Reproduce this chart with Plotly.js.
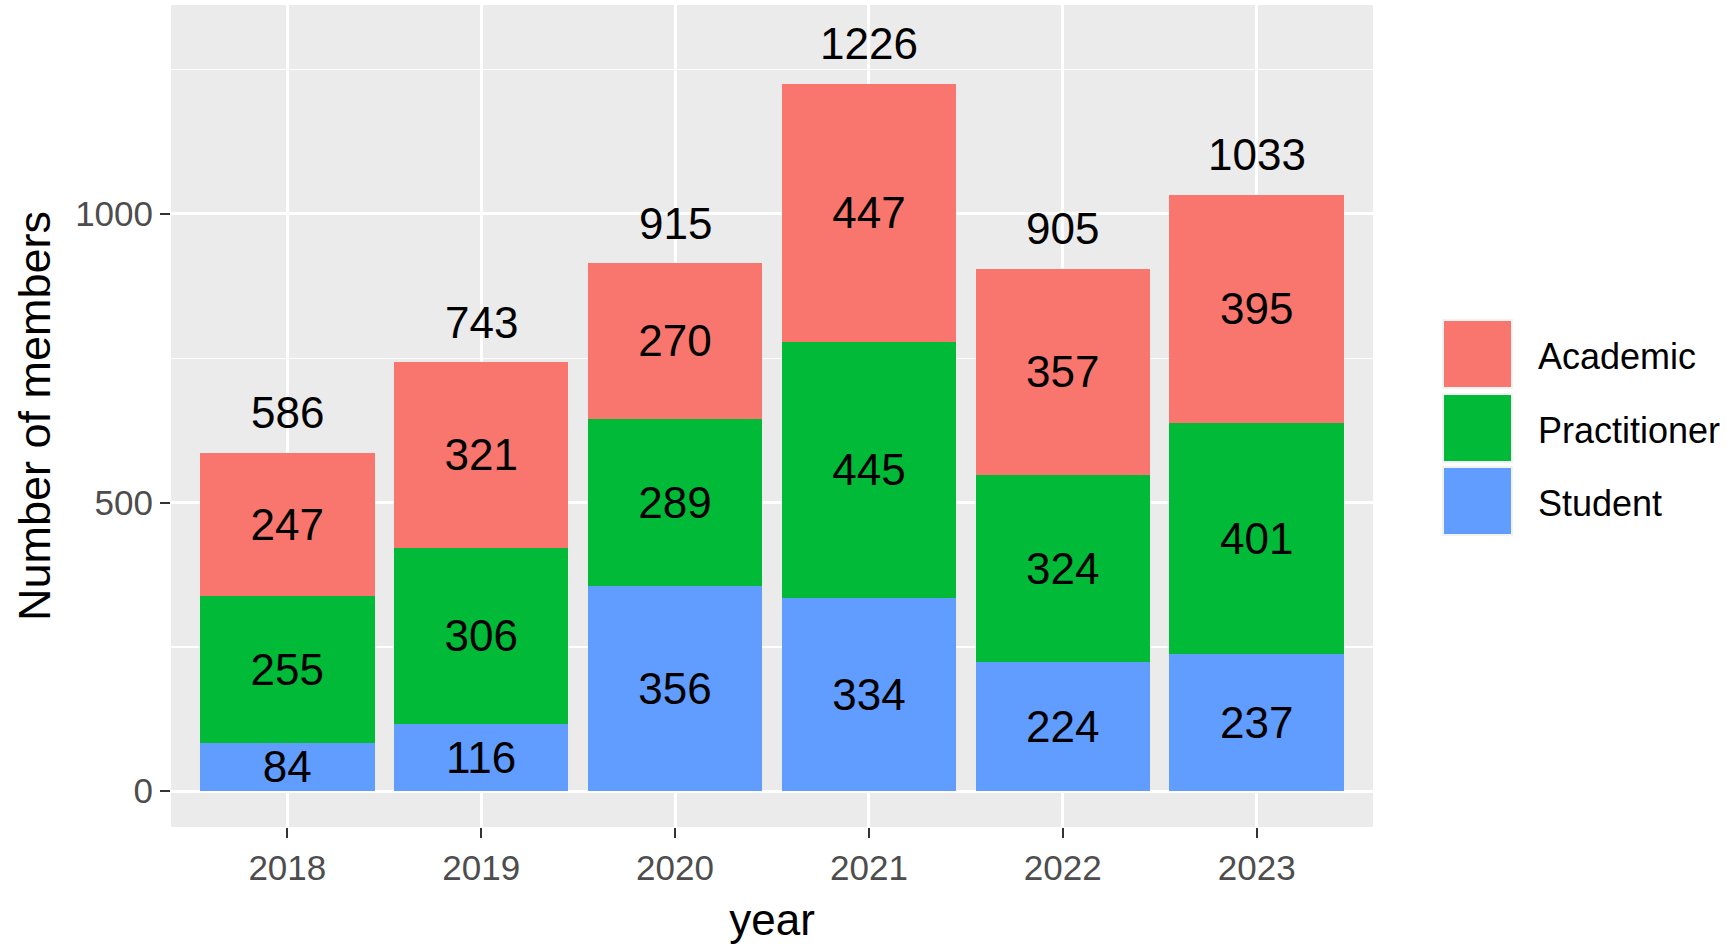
<!DOCTYPE html>
<html>
<head>
<meta charset="utf-8">
<script src="https://cdn.plot.ly/plotly-3.0.1.min.js"></script>
<style>
  html, body { margin: 0; padding: 0; background: #ffffff; }
  #chart { width: 1733px; height: 945px; }
</style>
</head>
<body>
<div id="chart"></div>
<script>
const years = ["2018", "2019", "2020", "2021", "2022", "2023"];
const student = [84, 116, 356, 334, 224, 237];
const practitioner = [255, 306, 289, 445, 324, 401];
const academic = [247, 321, 270, 447, 357, 395];

const groups = ["Academic", "Practitioner", "Student"];
const colors = { Academic: "#F8766D", Practitioner: "#00BA38", Student: "#619CFF" };

const font = "Liberation Sans, Arial, sans-serif";
const W = 1733, H = 945;
const margin = { l: 171, r: 360, t: 5, b: 118 };

// pixel -> paper helpers for the hand-made legend
const px = (x) => (x - margin.l) / (W - margin.l - margin.r);
const py = (y) => (H - margin.b - y) / (H - margin.t - margin.b);

const totals = years.map((_, i) => student[i] + practitioner[i] + academic[i]);

function barTrace(name, values) {
  return {
    type: "bar",
    name,
    x: years,
    y: values,
    marker: { color: colors[name], line: { width: 0 } },
    text: values.map(String),
    textposition: "inside",
    insidetextanchor: "middle",
    textangle: 0,
    textfont: { family: font, size: 44, color: "#000000" },
    hoverinfo: "skip",
    showlegend: false,
  };
}

const data = [
  barTrace("Student", student),
  barTrace("Practitioner", practitioner),
  barTrace("Academic", academic),
];

// totals above each bar; x given as category index
const annotations = totals.map((t, i) => ({
  x: i, y: t, xref: "x", yref: "y",
  text: String(t), showarrow: false,
  yanchor: "middle", yshift: 40,
  font: { family: font, size: 44, color: "#000000" },
}));

const shapes = [];
const keyTops = [320, 394, 467];
groups.forEach((g, i) => {
  const top = keyTops[i];
  shapes.push({
    type: "rect", xref: "paper", yref: "paper",
    x0: px(1443), x1: px(1512), y0: py(top + 68), y1: py(top),
    fillcolor: colors[g], line: { color: "#F2F2F2", width: 2 },
  });
  annotations.push({
    xref: "paper", yref: "paper", x: px(1536), y: py(top + 36),
    xanchor: "left", yanchor: "middle", showarrow: false,
    text: g, font: { family: font, size: 36, color: "#000000" },
  });
});

const layout = {
  width: W, height: H,
  margin,
  paper_bgcolor: "#ffffff",
  plot_bgcolor: "#EBEBEB",
  barmode: "stack",
  bargap: 0.1,
  showlegend: false,
  uniformtext: { mode: "show", minsize: 44 },
  font: { family: font, color: "#000000" },
  xaxis: {
    type: "category",
    range: [-0.6, 5.6],
    showgrid: true, gridcolor: "#ffffff", gridwidth: 3,
    ticks: "outside", ticklen: 10, tickwidth: 2, tickcolor: "#333333",
    tickfont: { family: font, size: 35, color: "#4D4D4D" },
    showline: false, zeroline: false,
    title: { text: "year", font: { family: font, size: 44, color: "#000000" }, standoff: 18 },
  },
  yaxis: {
    range: [-62, 1362],
    tickvals: [0, 500, 1000],
    showgrid: true, gridcolor: "#ffffff", gridwidth: 3,
    minor: { tickvals: [250, 750, 1250], showgrid: true, gridcolor: "#ffffff", gridwidth: 1.5, ticks: "" },
    zeroline: true, zerolinecolor: "#ffffff", zerolinewidth: 3,
    ticks: "outside", ticklen: 10, tickwidth: 2, tickcolor: "#333333",
    tickfont: { family: font, size: 35, color: "#4D4D4D" },
    showline: false,
    title: { text: "Number of members", font: { family: font, size: 45, color: "#000000" }, standoff: 10 },
  },
  annotations,
  shapes,
};

Plotly.newPlot("chart", data, layout, { displayModeBar: false, staticPlot: true });
</script>
</body>
</html>
